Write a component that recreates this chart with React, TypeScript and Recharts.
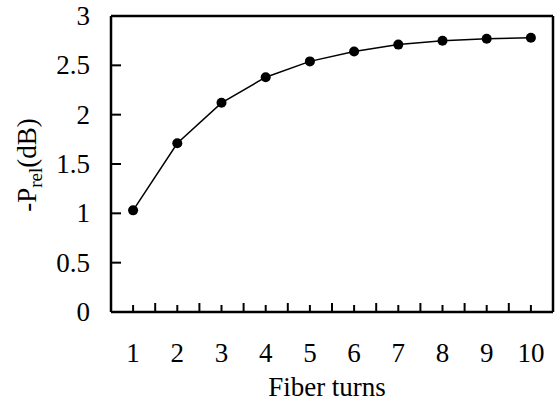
import React from "react";
import { LineChart, Line, XAxis, YAxis, ReferenceLine, Label } from "recharts";

const turns = [1, 2, 3, 4, 5, 6, 7, 8, 9, 10];
const prel = [1.03, 1.71, 2.12, 2.38, 2.54, 2.64, 2.71, 2.75, 2.77, 2.78];
const xTicks = [1, 1.5, 2, 2.5, 3, 3.5, 4, 4.5, 5, 5.5, 6, 6.5, 7, 7.5, 8, 8.5, 9, 9.5, 10];
const yTicks = [0, 0.5, 1, 1.5, 2, 2.5, 3];

const data = turns.map((t, i) => ({ t, v: prel[i] }));

const FONT = "'Liberation Serif', 'Times New Roman', serif";
const FS = 27;

const XTick = (props: any) => {
  const { x, y, payload } = props;
  const v = payload.value;
  const isInt = Number.isInteger(v);
  return (
    <g>
      <line x1={x} y1={y} x2={x} y2={y - (isInt ? 7 : 9)} stroke="#000" strokeWidth={2} />
      {isInt && (
        <text x={x} y={y + 50} textAnchor="middle" fontSize={FS} fontFamily={FONT} fill="#000">
          {v}
        </text>
      )}
    </g>
  );
};

const YTick = (props: any) => {
  const { x, y, payload } = props;
  return (
    <g>
      <line x1={x} y1={y} x2={x + 10} y2={y} stroke="#000" strokeWidth={2} />
      <text x={x - 21} y={y + 9} textAnchor="end" fontSize={FS} fontFamily={FONT} fill="#000">
        {payload.value}
      </text>
    </g>
  );
};

const YLabel = () => (
  <text
    x={36}
    y={165}
    transform="rotate(-90, 36, 165)"
    textAnchor="middle"
    fontSize={FS}
    fontFamily={FONT}
    fill="#000"
  >
    <tspan>-P</tspan>
    <tspan dy={6} fontSize={19}>rel</tspan>
    <tspan dy={-6}>(dB)</tspan>
  </text>
);

export default function App() {
  return (
    <div style={{ position: "absolute", left: 0, top: 0, background: "#fff" }}>
      <LineChart width={556} height={404} data={data} margin={{ top: 16, right: 3, bottom: 0, left: 0 }}>
        <XAxis
          dataKey="t"
          type="number"
          domain={[0.5, 10.5]}
          ticks={xTicks}
          interval={0}
          height={92}
          tickSize={0}
          tickMargin={0}
          tickLine={false}
          axisLine={{ stroke: "#000", strokeWidth: 2.5 }}
          tick={<XTick />}
        >
          <Label
            value="Fiber turns"
            content={() => (
              <text x={327} y={396} textAnchor="middle" fontSize={FS} fontFamily={FONT} fill="#000">
                Fiber turns
              </text>
            )}
          />
        </XAxis>
        <YAxis
          type="number"
          domain={[0, 3]}
          ticks={yTicks}
          interval={0}
          width={111}
          tickSize={0}
          tickMargin={0}
          tickLine={false}
          axisLine={{ stroke: "#000", strokeWidth: 2.5 }}
          tick={<YTick />}
        >
          <Label content={() => <YLabel />} />
        </YAxis>
        <ReferenceLine y={3} stroke="#000" strokeWidth={2.5} ifOverflow="visible" />
        <ReferenceLine x={10.5} stroke="#000" strokeWidth={2.5} ifOverflow="visible" />
        <Line
          type="linear"
          dataKey="v"
          stroke="#000"
          strokeWidth={1.5}
          dot={{ r: 5, fill: "#000", stroke: "#000", strokeWidth: 0 }}
          isAnimationActive={false}
        />
      </LineChart>
    </div>
  );
}
